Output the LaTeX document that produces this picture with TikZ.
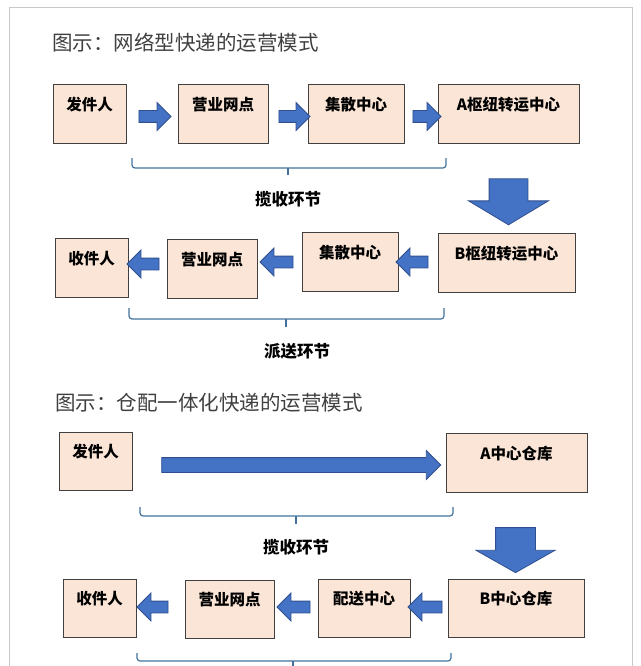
\documentclass[tikz,border=0pt]{standalone}
\usepackage{fontspec}
\newfontfamily\cjk{Noto Sans CJK SC}
\usetikzlibrary{shapes.arrows}
\definecolor{boxfill}{HTML}{FBE5D6}
\definecolor{boxline}{HTML}{404040}
\definecolor{arrowfill}{HTML}{4472C4}
\definecolor{arrowline}{HTML}{2F4F8F}
\definecolor{braceline}{HTML}{41719C}
\definecolor{framegray}{HTML}{C8C8C8}
\tikzset{
  stage/.style={draw=boxline, fill=boxfill, line width=1pt, inner sep=0pt,
    text height=12pt, text depth=19pt, minimum height=58pt,
    font=\cjk\bfseries\fontsize{15.5}{18}\selectfont},
  flowarrow/.style={single arrow, draw=arrowline, fill=arrowfill, line width=0.8pt,
    inner xsep=0pt, inner ysep=5.5pt, single arrow head extend=8pt, minimum height=32pt},
  bigarrow/.style={single arrow, draw=arrowline, fill=arrowfill, line width=0.8pt,
    inner xsep=0pt, inner ysep=19pt, single arrow head extend=20.5pt,
    single arrow tip angle=118, minimum height=46pt, rotate=-90},
  bracket/.style={draw=braceline, line width=1.2pt, rounded corners=3pt},
  phase/.style={font=\cjk\bfseries\fontsize{16.5}{20}\selectfont},
  heading/.style={anchor=west, inner sep=0pt, text=black!75,
    font=\cjk\fontsize{20.5}{24}\selectfont},
}
\begin{document}
\begin{tikzpicture}
    \useasboundingbox (0pt,0pt) rectangle (640pt,-666pt);
    \draw[framegray, line width=1pt] (9pt,-666pt) -- (9pt,-8pt) -- (632pt,-8pt) -- (632pt,-666pt);
    % network model
    \node[heading] (title1) at (52pt,-43pt) {图示：网络型快递的运营模式};
    \node[stage, minimum width=73pt] (sender1) at (89.5pt,-114pt) {发件人};
    \node[stage, minimum width=90pt] (outlet1) at (223pt,-114pt) {营业网点};
    \node[stage, minimum width=96pt] (hub1) at (356pt,-114pt) {集散中心};
    \node[stage, minimum width=141pt] (transitA) at (508.5pt,-114pt) {A枢纽转运中心};
    \node[flowarrow] (go1) at (152pt,-116.5pt) {};
    \node[flowarrow, minimum height=31pt] (go2) at (291.5pt,-116.5pt) {};
    \node[flowarrow, minimum height=28pt] (go3) at (424pt,-116.5pt) {};
    \draw[bracket] (132pt,-158pt) -- (132pt,-168pt) -- (446pt,-168pt) -- (446pt,-158pt);
    \draw[bracket] (288pt,-168pt) -- (288pt,-175pt);
    \node[phase] (collect1) at (288pt,-199pt) {揽收环节};
    \node[bigarrow] (down1) at (508.5pt,-196pt) {};
    \node[stage, minimum width=73pt, minimum height=59pt] (receiver2) at (91.5pt,-267.5pt) {收件人};
    \node[stage, minimum width=90pt, minimum height=59pt] (outlet2) at (212pt,-268.5pt) {营业网点};
    \node[stage, minimum width=96pt, minimum height=59pt] (hub2) at (350pt,-261.5pt) {集散中心};
    \node[stage, minimum width=137pt, minimum height=59pt] (transitB) at (506.5pt,-262.5pt) {B枢纽转运中心};
    \node[flowarrow, rotate=180] (back1) at (146pt,-264pt) {};
    \node[flowarrow, rotate=180, minimum height=33pt] (back2) at (279.5pt,-262pt) {};
    \node[flowarrow, rotate=180] (back3) at (415pt,-262pt) {};
    \draw[bracket] (129pt,-308pt) -- (129pt,-319pt) -- (444pt,-319pt) -- (444pt,-308pt);
    \draw[bracket] (286pt,-319pt) -- (286pt,-327pt);
    \node[phase] (deliver2) at (297pt,-351pt) {派送环节};
    % warehouse model
    \node[heading] (title2) at (55pt,-403pt) {图示：仓配一体化快递的运营模式};
    \node[stage, minimum width=73pt] (sender3) at (95.5pt,-461pt) {发件人};
    \node[stage, minimum width=141pt, minimum height=59pt] (storeA) at (516.5pt,-462.5pt) {A中心仓库};
    \node[flowarrow, inner ysep=7pt, single arrow head extend=7pt, minimum height=279pt] (direct3) at (297.5pt,-465pt) {};
    \draw[bracket] (140pt,-507pt) -- (140pt,-516pt) -- (453pt,-516pt) -- (453pt,-507pt);
    \draw[bracket] (296pt,-516pt) -- (296pt,-524pt);
    \node[phase] (collect3) at (296pt,-547pt) {揽收环节};
    \node[bigarrow, inner ysep=19.5pt, single arrow head extend=19.5pt, single arrow tip angle=121, minimum height=45pt] (down2) at (515.5pt,-544.5pt) {};
    \node[stage, minimum width=73pt] (receiver4) at (99.5pt,-608pt) {收件人};
    \node[stage, minimum width=89pt] (outlet4) at (229.5pt,-609pt) {营业网点};
    \node[stage, minimum width=92pt] (depot4) at (364pt,-608pt) {配送中心};
    \node[stage, minimum width=136pt] (storeB) at (516pt,-608pt) {B中心仓库};
    \node[flowarrow, rotate=180, minimum height=31pt] (back4) at (155.5pt,-607pt) {};
    \node[flowarrow, rotate=180, minimum height=33pt] (back5) at (296.5pt,-607pt) {};
    \node[flowarrow, rotate=180, minimum height=34pt] (back6) at (428pt,-607pt) {};
    \draw[bracket] (137pt,-653pt) -- (137pt,-661pt) -- (451pt,-661pt) -- (451pt,-653pt);
    \draw[bracket] (293pt,-661pt) -- (293pt,-670pt);
\end{tikzpicture}
\end{document}
